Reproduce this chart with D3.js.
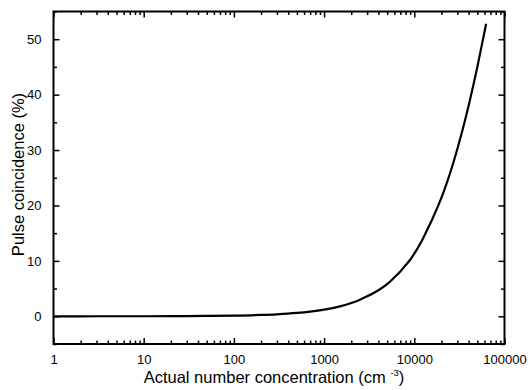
<!DOCTYPE html>
<html><head><meta charset="utf-8">
<script src="https://cdn.jsdelivr.net/npm/d3@7"></script>
<style>
body{margin:0;background:#fff;}
svg text{font-family:"Liberation Sans",Arial,sans-serif;fill:#000;}
</style></head>
<body><svg id="c" width="530" height="390"></svg>
<script>
const concentration = [1, 2, 5, 10, 20, 50, 100, 200, 300, 500, 700, 1000, 1500, 2000, 2500, 3000, 4000, 5000, 6000, 7000, 8000, 9000, 10000, 12000, 14000, 16000, 18000, 20000, 25000, 30000, 35000, 40000, 45000, 50000, 55000, 60000, 62500];
const coincidence   = [0, 0, 0.01, 0.01, 0.02, 0.06, 0.12, 0.24, 0.36, 0.6, 0.84, 1.2, 1.8, 2.4, 3.0, 3.6, 4.7, 5.8, 7.0, 8.1, 9.2, 10.2, 11.3, 13.5, 15.7, 17.7, 19.6, 21.4, 25.9, 30.2, 34.2, 38.0, 41.6, 45.0, 48.3, 51.3, 52.8];
const xMajor = [1, 10, 100, 1000, 10000, 100000];
const xLabels = ["1", "10", "100", "1000", "10000", "100000"];
const yMajor = [0, 10, 20, 30, 40, 50];
const yMinor = [-5, 5, 15, 25, 35, 45, 55];
const xTitle = "Actual number concentration (cm";
const yTitle = "Pulse coincidence (%)";

const L = 53.5, R = 504.5, T = 11.5, B = 344;
const svg = d3.select("#c");
const x = d3.scaleLog().domain([1, 100000]).range([L, R]);
const y = d3.scaleLinear().domain([-5, 55]).range([B, T]);

const xMinor = [];
for (let d = 1; d < 100000; d *= 10) for (let k = 2; k <= 9; k++) xMinor.push(d * k);

function axisStyle(g){ g.select(".domain").remove(); g.selectAll("line").attr("stroke","#000").attr("stroke-width",1.5); }

// bottom axis
svg.append("g").attr("transform",`translate(0,${B})`)
  .call(d3.axisBottom(x).tickValues(xMajor).tickFormat((d,i)=>xLabels[i]).tickSizeInner(-6).tickSizeOuter(0).tickPadding(11))
  .call(axisStyle).call(g=>g.selectAll("text").attr("font-size",13));
svg.append("g").attr("transform",`translate(0,${B})`)
  .call(d3.axisBottom(x).tickValues(xMinor).tickFormat("").tickSizeInner(-3.5).tickSizeOuter(0)).call(axisStyle);
// top axis
svg.append("g").attr("transform",`translate(0,${T})`)
  .call(d3.axisTop(x).tickValues(xMajor).tickFormat("").tickSizeInner(-6).tickSizeOuter(0)).call(axisStyle);
svg.append("g").attr("transform",`translate(0,${T})`)
  .call(d3.axisTop(x).tickValues(xMinor).tickFormat("").tickSizeInner(-3.5).tickSizeOuter(0)).call(axisStyle);
// left axis
svg.append("g").attr("transform",`translate(${L},0)`)
  .call(d3.axisLeft(y).tickValues(yMajor).tickFormat(d3.format("d")).tickSizeInner(-6).tickSizeOuter(0).tickPadding(12))
  .call(axisStyle).call(g=>g.selectAll("text").attr("font-size",13));
svg.append("g").attr("transform",`translate(${L},0)`)
  .call(d3.axisLeft(y).tickValues(yMinor).tickFormat("").tickSizeInner(-3.5).tickSizeOuter(0)).call(axisStyle);
// right axis
svg.append("g").attr("transform",`translate(${R},0)`)
  .call(d3.axisRight(y).tickValues(yMajor).tickFormat("").tickSizeInner(-6).tickSizeOuter(0)).call(axisStyle);
svg.append("g").attr("transform",`translate(${R},0)`)
  .call(d3.axisRight(y).tickValues(yMinor).tickFormat("").tickSizeInner(-3.5).tickSizeOuter(0)).call(axisStyle);

// frame
svg.append("rect").attr("x",L).attr("y",T).attr("width",R-L).attr("height",B-T)
  .attr("fill","none").attr("stroke","#000").attr("stroke-width",2);

// curve
const pts = concentration.map((c,i)=>[c, coincidence[i]]);
svg.append("path").datum(pts)
  .attr("d", d3.line().x(d=>x(d[0])).y(d=>y(d[1])).curve(d3.curveMonotoneX))
  .attr("fill","none").attr("stroke","#000").attr("stroke-width",2.2).attr("stroke-linejoin","round");

// titles
const xt = svg.append("text").attr("x",274).attr("y",382.5).attr("text-anchor","middle").attr("font-size",16.5);
xt.append("tspan").text(xTitle + " ");
xt.append("tspan").attr("font-size",9.5).attr("dy",-7).text("-3");
xt.append("tspan").attr("dy",7).text(")");
svg.append("text").attr("transform",`translate(23.5,174.5) rotate(-90)`).attr("text-anchor","middle")
  .attr("font-size",16.5).text(yTitle);
</script></body></html>
